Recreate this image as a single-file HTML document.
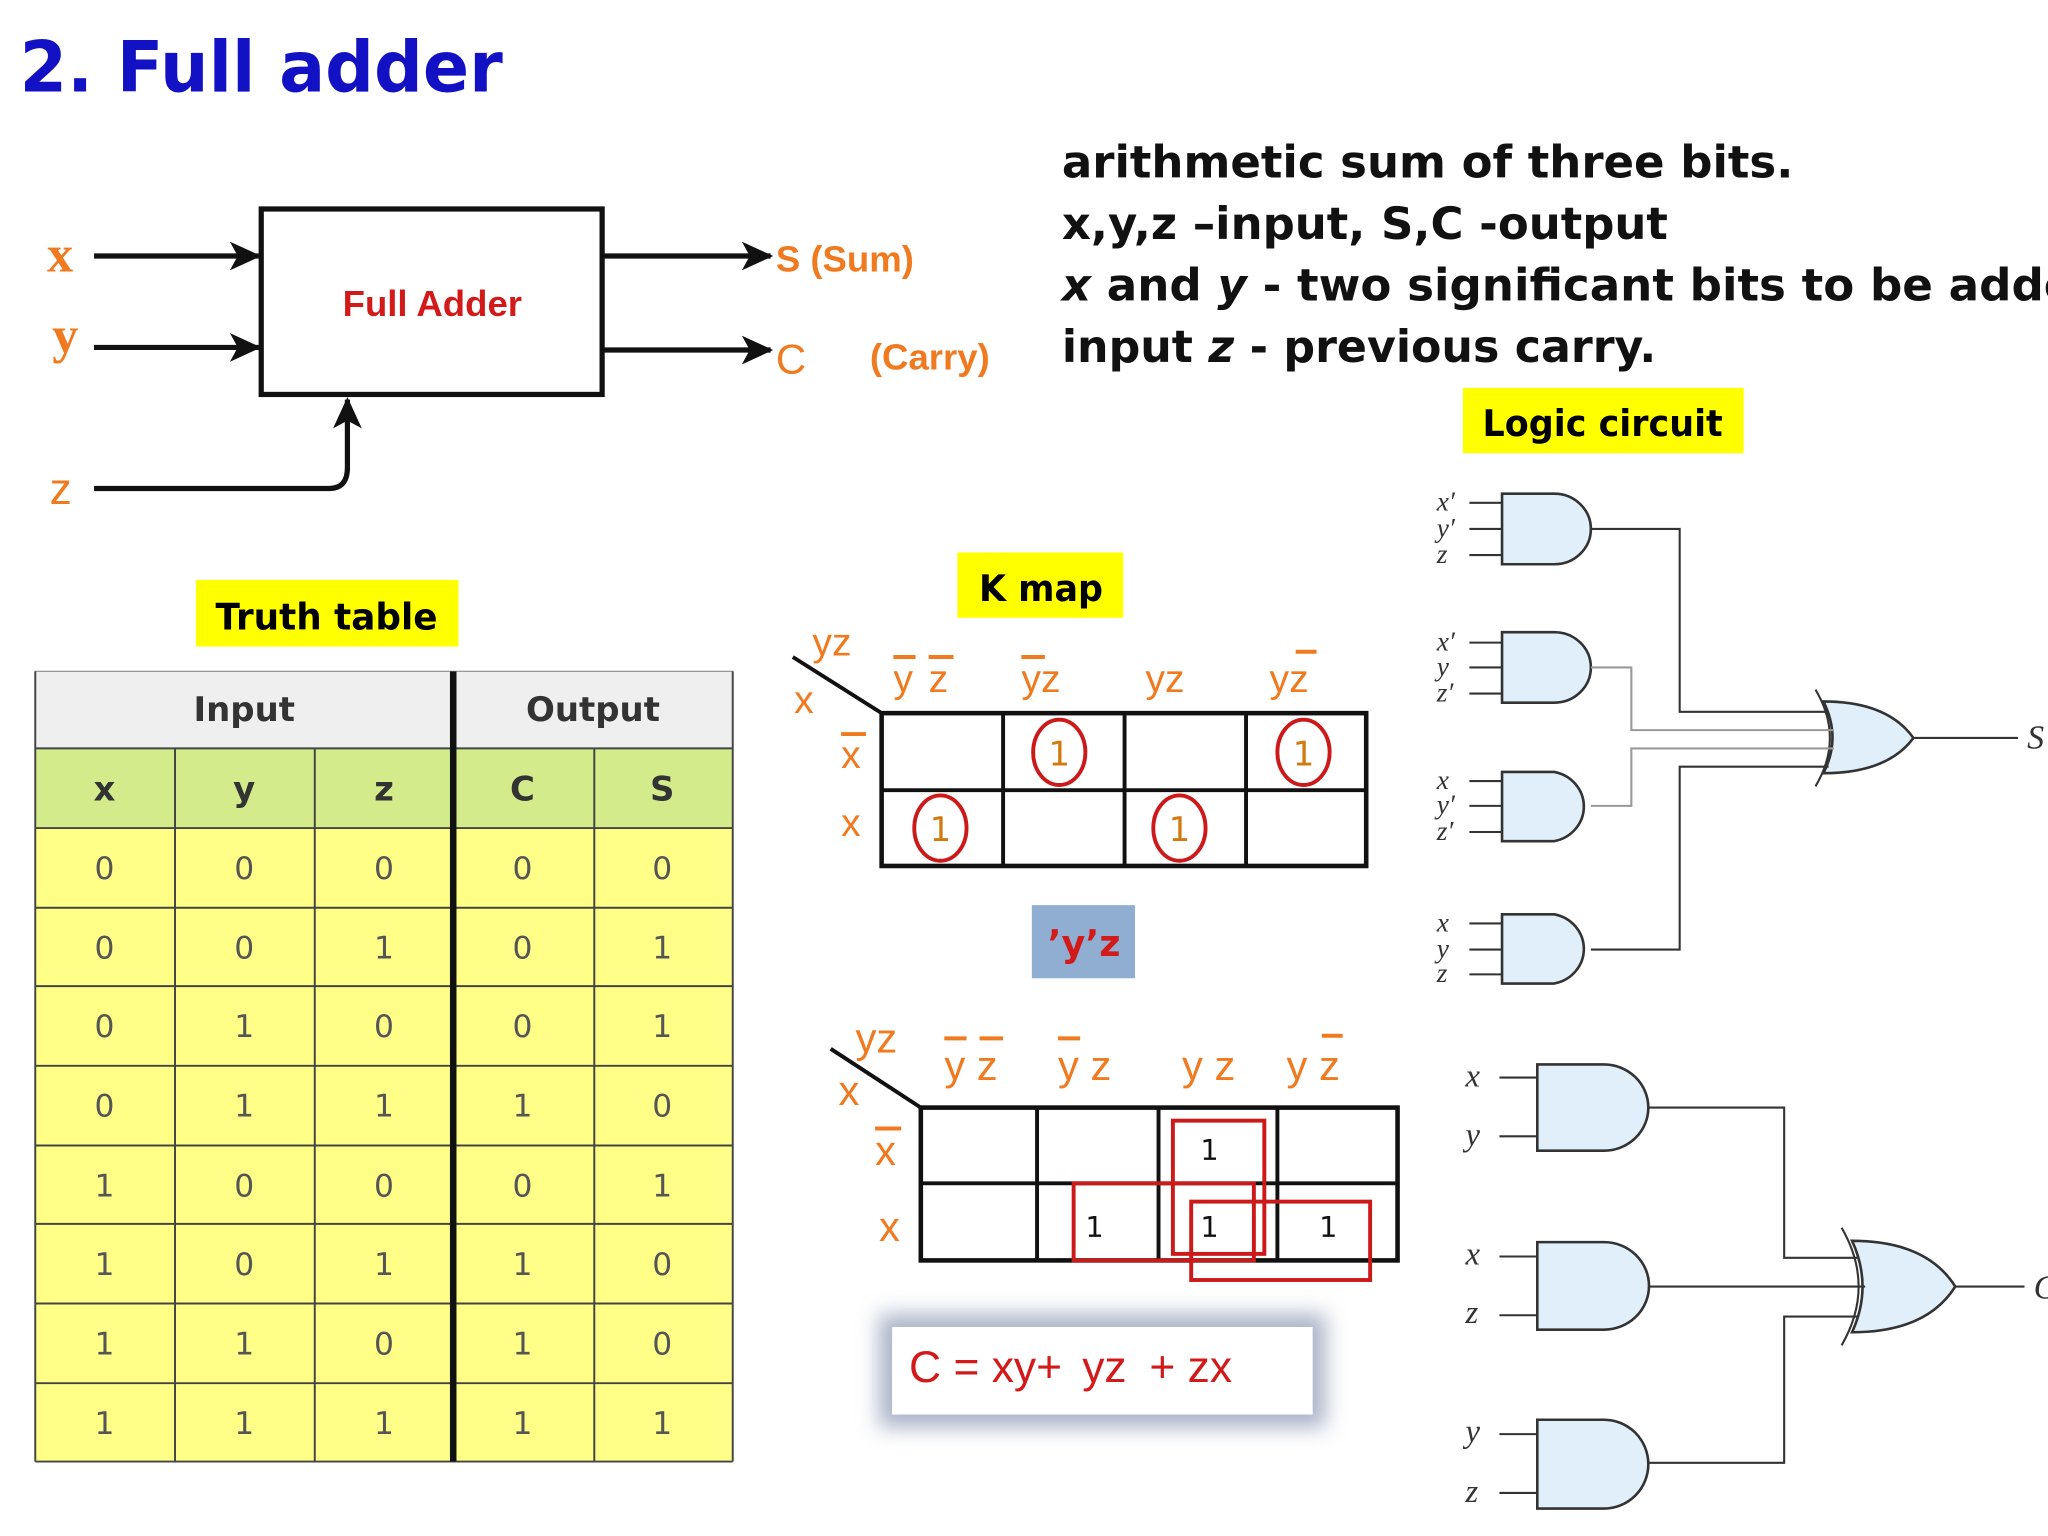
<!DOCTYPE html>
<html><head><meta charset="utf-8"><style>
html,body{margin:0;padding:0;background:#fff;width:2048px;height:1536px;overflow:hidden}
svg{display:block}
.o{fill:#f07a20;font-family:"Liberation Sans",sans-serif}
.t{font-family:"DejaVu Sans",sans-serif}
.g{fill:#e0effa;stroke:#333;stroke-width:2}
.w{stroke:#333;stroke-width:1.6;fill:none}
.wg{stroke:#999;stroke-width:1.6;fill:none}
.il{font-family:"Liberation Serif",serif;font-style:italic;fill:#333}
</style></head><body>
<svg width="2048" height="1536" viewBox="0 0 1568 1176" xmlns="http://www.w3.org/2000/svg">
<defs>
<marker id="ah2" markerWidth="24" markerHeight="22" refX="22" refY="11" orient="auto" markerUnits="userSpaceOnUse"><path d="M0,0 L24,11 L0,22 L6,11 Z" fill="#111"/></marker>
<filter id="sh" x="-20%" y="-50%" width="140%" height="200%"><feGaussianBlur stdDeviation="8"/></filter>
</defs>
<text x="15" y="70" font-family="DejaVu Sans,sans-serif" font-weight="bold" font-size="54" fill="#1212c4" textLength="370" lengthAdjust="spacingAndGlyphs">2. Full adder</text>
<g class="t" font-size="34" font-weight="bold" fill="#111">
<text x="813" y="136" textLength="560" lengthAdjust="spacingAndGlyphs">arithmetic sum of three bits.</text>
<text x="813" y="183" textLength="464" lengthAdjust="spacingAndGlyphs">x,y,z –input, S,C  -output</text>
<text x="813" y="230" textLength="800" lengthAdjust="spacingAndGlyphs"><tspan font-style="italic">x</tspan> and <tspan font-style="italic">y</tspan> - two significant bits to be added</text>
<text x="813" y="277" textLength="455" lengthAdjust="spacingAndGlyphs">input <tspan font-style="italic">z</tspan> - previous carry.</text>
</g>
<rect x="200" y="160" width="261" height="142" fill="#fff" stroke="#111" stroke-width="4"/>
<text x="331" y="242" text-anchor="middle" font-family="Liberation Sans,sans-serif" font-size="28" font-weight="bold" fill="#d21a1a">Full Adder</text>
<g stroke="#111" stroke-width="4" fill="none">
<line x1="72" y1="196" x2="198" y2="196" marker-end="url(#ah2)"/>
<line x1="72" y1="266" x2="198" y2="266" marker-end="url(#ah2)"/>
<path d="M72,374 H252 Q266,374 266,358 V306" marker-end="url(#ah2)"/>
<line x1="461" y1="196" x2="590" y2="196" marker-end="url(#ah2)"/>
<line x1="461" y1="268" x2="590" y2="268" marker-end="url(#ah2)"/>
</g>
<g font-family="Liberation Serif,serif" font-weight="bold" font-size="40" fill="#f07a20">
<text x="36" y="208">x</text><text x="40" y="270">y</text></g>
<text x="38" y="386" class="o" font-size="34">z</text>
<text x="594" y="208" class="o" font-size="28" font-weight="bold">S (Sum)</text>
<text x="594" y="286" class="o" font-size="32">C</text>
<text x="666" y="283" class="o" font-size="28" font-weight="bold">(Carry)</text>
<rect x="150" y="444" width="201" height="51" fill="#ffff00"/>
<text x="250" y="482" text-anchor="middle" class="t" font-size="28" font-weight="bold" textLength="170" lengthAdjust="spacingAndGlyphs">Truth table</text>
<rect x="27" y="514" width="534" height="59" fill="#efefef" stroke="#999"/>
<rect x="27" y="573" width="534" height="61" fill="#d3eb8b"/>
<rect x="27" y="634" width="534" height="485" fill="#ffff88"/>
<g stroke="#444" stroke-width="1.5">
<line x1="27" y1="573" x2="561" y2="573"/><line x1="27" y1="634" x2="561" y2="634"/>
<line x1="27" y1="695" x2="561" y2="695"/><line x1="27" y1="755" x2="561" y2="755"/><line x1="27" y1="816" x2="561" y2="816"/><line x1="27" y1="877" x2="561" y2="877"/><line x1="27" y1="937" x2="561" y2="937"/><line x1="27" y1="998" x2="561" y2="998"/><line x1="27" y1="1059" x2="561" y2="1059"/><line x1="27" y1="1119" x2="561" y2="1119"/>
<line x1="134" y1="573" x2="134" y2="1119"/><line x1="241" y1="573" x2="241" y2="1119"/><line x1="455" y1="573" x2="455" y2="1119"/>
<line x1="27" y1="514" x2="27" y2="1119"/><line x1="561" y1="514" x2="561" y2="1119"/>
</g>
<line x1="347" y1="514" x2="347" y2="1119" stroke="#111" stroke-width="5"/>
<g class="t" font-size="26" text-anchor="middle" fill="#333">
<text x="187" y="552" font-weight="bold">Input</text><text x="454" y="552" font-weight="bold">Output</text>
<text x="80" y="613" font-weight="bold">x</text><text x="187" y="613" font-weight="bold">y</text><text x="294" y="613" font-weight="bold">z</text><text x="400" y="613" font-weight="bold">C</text><text x="507" y="613" font-weight="bold">S</text>
</g>
<g class="t" font-size="24" text-anchor="middle" fill="#555">
<text x="80" y="673">0</text><text x="187" y="673">0</text><text x="294" y="673">0</text><text x="400" y="673">0</text><text x="507" y="673">0</text>
<text x="80" y="734">0</text><text x="187" y="734">0</text><text x="294" y="734">1</text><text x="400" y="734">0</text><text x="507" y="734">1</text>
<text x="80" y="794">0</text><text x="187" y="794">1</text><text x="294" y="794">0</text><text x="400" y="794">0</text><text x="507" y="794">1</text>
<text x="80" y="855">0</text><text x="187" y="855">1</text><text x="294" y="855">1</text><text x="400" y="855">1</text><text x="507" y="855">0</text>
<text x="80" y="916">1</text><text x="187" y="916">0</text><text x="294" y="916">0</text><text x="400" y="916">0</text><text x="507" y="916">1</text>
<text x="80" y="976">1</text><text x="187" y="976">0</text><text x="294" y="976">1</text><text x="400" y="976">1</text><text x="507" y="976">0</text>
<text x="80" y="1037">1</text><text x="187" y="1037">1</text><text x="294" y="1037">0</text><text x="400" y="1037">1</text><text x="507" y="1037">0</text>
<text x="80" y="1098">1</text><text x="187" y="1098">1</text><text x="294" y="1098">1</text><text x="400" y="1098">1</text><text x="507" y="1098">1</text>
</g>
<rect x="733" y="423" width="127" height="50" fill="#ffff00"/>
<text x="797" y="460" text-anchor="middle" class="t" font-size="28" font-weight="bold" textLength="95" lengthAdjust="spacingAndGlyphs">K map</text>
<line x1="607" y1="503" x2="675" y2="546" stroke="#111" stroke-width="3"/>
<g class="o" font-size="30">
<text x="622" y="502">yz</text><text x="608" y="546">x</text>
<text x="684" y="530">y</text><text x="711" y="530">z</text><text x="782" y="530">yz</text><text x="877" y="530">yz</text><text x="972" y="530">yz</text>
<text x="644" y="588">x</text><text x="644" y="640">x</text>
</g>
<g stroke="#f07a20" stroke-width="3"><line x1="684" y1="503" x2="701" y2="503"/><line x1="711" y1="503" x2="730" y2="503"/><line x1="782" y1="503" x2="800" y2="503"/><line x1="992" y1="499" x2="1008" y2="499"/><line x1="644" y1="562" x2="663" y2="562"/></g>
<rect x="675" y="546" width="371" height="117" fill="none" stroke="#111" stroke-width="3.5"/>
<g stroke="#111" stroke-width="3"><line x1="675" y1="605" x2="1046" y2="605"/><line x1="768" y1="546" x2="768" y2="663"/><line x1="861" y1="546" x2="861" y2="663"/><line x1="954" y1="546" x2="954" y2="663"/></g>
<g fill="none" stroke="#cc1a1a" stroke-width="3"><ellipse cx="811" cy="576" rx="20" ry="25"/><ellipse cx="998" cy="576" rx="20" ry="25"/><ellipse cx="720" cy="634" rx="20" ry="25"/><ellipse cx="903" cy="634" rx="20" ry="25"/></g>
<g class="t" font-size="26" fill="#d07a10" text-anchor="middle"><text x="811" y="586">1</text><text x="998" y="586">1</text><text x="720" y="644">1</text><text x="903" y="644">1</text></g>
<rect x="790" y="693" width="79" height="56" fill="#8faed2"/>
<text x="830" y="732" text-anchor="middle" class="t" font-size="28" font-weight="bold" fill="#d21a1a">’y’z</text>
<line x1="636" y1="803" x2="705" y2="848" stroke="#111" stroke-width="3"/>
<g class="o" font-size="32">
<text x="655" y="806">yz</text><text x="642" y="846">x</text>
<text x="723" y="827">y z</text><text x="810" y="827">y z</text><text x="905" y="827">y z</text><text x="985" y="827">y z</text>
<text x="670" y="892">x</text><text x="673" y="950">x</text>
</g>
<g stroke="#f07a20" stroke-width="3"><line x1="723" y1="795" x2="740" y2="795"/><line x1="750" y1="795" x2="768" y2="795"/><line x1="810" y1="795" x2="827" y2="795"/><line x1="1012" y1="793" x2="1028" y2="793"/><line x1="670" y1="864" x2="690" y2="864"/></g>
<rect x="705" y="848" width="365" height="117" fill="none" stroke="#111" stroke-width="3.5"/>
<g stroke="#111" stroke-width="3"><line x1="705" y1="906" x2="1070" y2="906"/><line x1="794" y1="848" x2="794" y2="965"/><line x1="887" y1="848" x2="887" y2="965"/><line x1="978" y1="848" x2="978" y2="965"/></g>
<g fill="none" stroke="#cc1a1a" stroke-width="3"><rect x="898" y="858" width="70" height="102"/><rect x="822" y="906" width="138" height="59"/><rect x="912" y="920" width="137" height="60"/></g>
<g class="t" font-size="22" fill="#111" text-anchor="middle"><text x="926" y="888">1</text><text x="838" y="947">1</text><text x="926" y="947">1</text><text x="1017" y="947">1</text></g>
<rect x="673" y="1006" width="342" height="87" fill="#aab4c8" filter="url(#sh)"/>
<rect x="683" y="1016" width="322" height="67" fill="#fff"/>
<text x="696" y="1058" font-family="Liberation Sans,sans-serif" font-size="34" fill="#d21a1a">C = xy+ <tspan dx="6">yz</tspan> <tspan dx="8">+ zx</tspan></text>
<rect x="1120" y="297" width="215" height="50" fill="#ffff00"/>
<text x="1227" y="334" text-anchor="middle" class="t" font-size="28" font-weight="bold" textLength="184" lengthAdjust="spacingAndGlyphs">Logic circuit</text>
<g>
<path class="g" d="M1150,378 H1190 A28,27 0 0 1 1190,432 H1150 Z"/>
<path class="g" d="M1150,484 H1190 A28,27 0 0 1 1190,538 H1150 Z"/>
<path class="g" d="M1150,591 H1190 A28,27 0 0 1 1190,644 H1150 Z"/>
<path class="g" d="M1150,700 H1190 A28,27 0 0 1 1190,753 H1150 Z"/>
<path class="g" d="M1396,537 Q1445,537 1465,565 Q1445,592 1396,592 Q1410,565 1396,537 Z"/>
<path class="w" d="M1390,528 Q1412,565 1390,602"/>
<g class="w"><line x1="1125" y1="385" x2="1150" y2="385"/><line x1="1125" y1="405" x2="1150" y2="405"/><line x1="1125" y1="425" x2="1150" y2="425"/>
<line x1="1125" y1="492" x2="1150" y2="492"/><line x1="1125" y1="511" x2="1150" y2="511"/><line x1="1125" y1="531" x2="1150" y2="531"/>
<line x1="1125" y1="598" x2="1150" y2="598"/><line x1="1125" y1="617" x2="1150" y2="617"/><line x1="1125" y1="637" x2="1150" y2="637"/>
<line x1="1125" y1="707" x2="1150" y2="707"/><line x1="1125" y1="727" x2="1150" y2="727"/><line x1="1125" y1="746" x2="1150" y2="746"/>
<path d="M1218,405 H1286 V545 H1400"/><path d="M1218,727 H1286 V587 H1400"/><line x1="1465" y1="565" x2="1545" y2="565"/></g>
<g class="wg"><path d="M1218,511 H1249 V559 H1404"/><path d="M1218,617 H1249 V573 H1404"/></g>
<g class="il" style="font-size:21px"><text x="1100" y="391">x′</text><text x="1100" y="411">y′</text><text x="1100" y="431">z</text>
<text x="1100" y="498">x′</text><text x="1100" y="517">y</text><text x="1100" y="537">z′</text>
<text x="1100" y="604">x</text><text x="1100" y="623">y′</text><text x="1100" y="643">z′</text>
<text x="1100" y="713">x</text><text x="1100" y="733">y</text><text x="1100" y="752">z</text></g>
<text x="1552" y="573" class="il" style="font-size:26px">S</text>
</g>
<g>
<path class="g" d="M1177,815 H1228 A34,33 0 0 1 1228,881 H1177 Z"/>
<path class="g" d="M1177,951 H1228 A34,33 0 0 1 1228,1018 H1177 Z"/>
<path class="g" d="M1177,1087 H1228 A34,34 0 0 1 1228,1155 H1177 Z"/>
<path class="g" d="M1418,950 Q1475,950 1497,985 Q1475,1020 1418,1020 Q1434,985 1418,950 Z"/>
<path class="w" d="M1410,940 Q1436,985 1410,1030"/>
<g class="w"><line x1="1148" y1="825" x2="1177" y2="825"/><line x1="1148" y1="870" x2="1177" y2="870"/><line x1="1148" y1="962" x2="1177" y2="962"/><line x1="1148" y1="1007" x2="1177" y2="1007"/><line x1="1148" y1="1098" x2="1177" y2="1098"/><line x1="1148" y1="1143" x2="1177" y2="1143"/>
<path d="M1262,848 H1366 V963 H1422"/><line x1="1262" y1="985" x2="1428" y2="985"/><path d="M1262,1120 H1366 V1008 H1422"/><line x1="1497" y1="985" x2="1550" y2="985"/></g>
<g class="il" style="font-size:25px"><text x="1122" y="832">x</text><text x="1122" y="877">y</text><text x="1122" y="968">x</text><text x="1122" y="1013">z</text><text x="1122" y="1104">y</text><text x="1122" y="1150">z</text></g>
<text x="1557" y="994" class="il" style="font-size:26px">C</text>
</g>
</svg>
</body></html>
